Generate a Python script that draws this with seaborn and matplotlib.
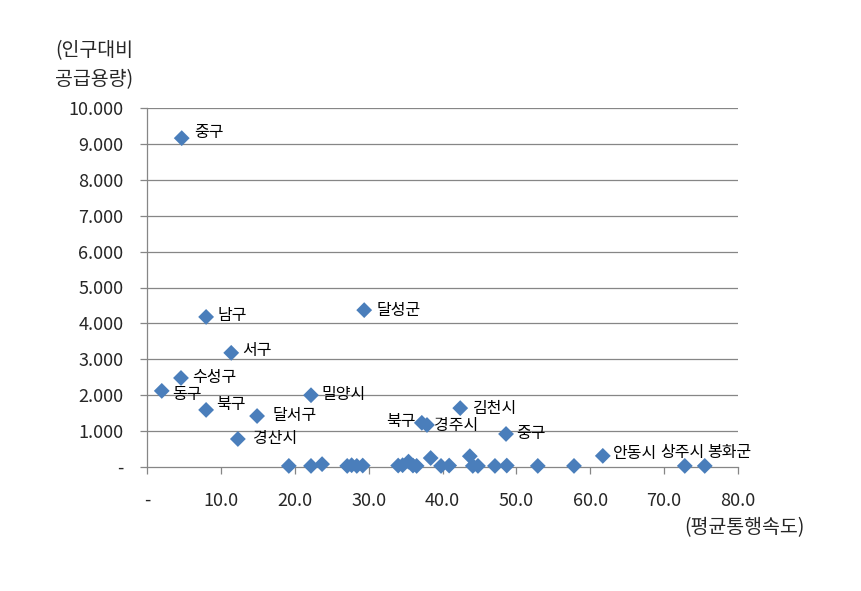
import matplotlib
matplotlib.use("Agg")
import matplotlib.pyplot as plt
import seaborn as sns
import pandas as pd
import numpy as np

# ---- data ----
labels = ["중구", "남구", "달성군", "서구", "수성구", "동구", "밀양시", "북구", "달서구",
          "경산시", "북구", "경주시", "김천시", "중구", "안동시", "상주시", "봉화군"]
label_x = [4.7, 8.0, 29.4, 11.4, 4.6, 2.0, 22.2, 8.0, 14.9,
           12.3, 37.2, 37.9, 42.4, 48.6, 61.7, 72.8, 75.5]
label_y = [9.16, 4.18, 4.37, 3.18, 2.48, 2.12, 2.00, 1.59, 1.42,
           0.78, 1.23, 1.17, 1.64, 0.92, 0.31, 0.03, 0.03]

other_x = [19.2, 22.2, 23.7, 27.1, 27.7, 28.4, 29.2, 34.0, 34.6, 35.4, 36.0, 36.5,
           38.4, 39.8, 40.9, 43.7, 44.1, 44.8, 47.1, 48.7, 52.9, 57.8]
other_y = [0.03, 0.03, 0.08, 0.03, 0.05, 0.03, 0.04, 0.04, 0.05, 0.15, 0.04, 0.03,
           0.25, 0.03, 0.04, 0.30, 0.03, 0.03, 0.03, 0.04, 0.03, 0.03]

x_ticks = [0, 10, 20, 30, 40, 50, 60, 70, 80]
x_ticklabels = ["-", "10.0", "20.0", "30.0", "40.0", "50.0", "60.0", "70.0", "80.0"]
y_ticks = list(range(0, 11))
y_ticklabels = ["-"] + [f"{v}.000" for v in range(1, 11)]
y_title = "(인구대비\n공급용량)"
x_title = "(평균통행속도)"

# label offsets (pixels) and alignment
offsets = [(12, 6), (11, 1), (12, 0), (11, 2), (11, 0), (10, -4), (10, 1), (10, 5), (15, 1),
           (15, 0), (-6, 1), (7, -1), (12, 0), (10, 0), (10, 2), (-25, 13), (2, 13)]
aligns = ["left"] * 10 + ["right"] + ["left"] * 6

df = pd.DataFrame({"x": label_x + other_x, "y": label_y + other_y})

sns.set_style("white")
plt.rcParams["font.family"] = ["Noto Sans CJK KR", "DejaVu Sans"]

fig = plt.figure(figsize=(8.62, 5.91), dpi=100)
ax = fig.add_axes([147 / 862, 1 - 467 / 591, (738 - 147) / 862, (467 - 108) / 591])

ax.set_xlim(0, 80)
ax.set_ylim(0, 10)
for v in y_ticks[1:]:
    ax.axhline(v, color="#868686", lw=0.9, zorder=0)

sns.scatterplot(data=df, x="x", y="y", marker="D", s=65, color="#4A7EBB",
                edgecolor="none", ax=ax, zorder=3, clip_on=False)

for t, x, y, (dx, dy), ha in zip(labels, label_x, label_y, offsets, aligns):
    ax.annotate(t, xy=(x, y), xytext=(dx, dy), textcoords="offset pixels",
                ha=ha, va="center", fontsize=11.5, color="black")

ax.set_xticks(x_ticks)
ax.set_xticklabels(x_ticklabels)
ax.set_yticks(y_ticks)
ax.set_yticklabels(y_ticklabels)
ax.tick_params(axis="x", direction="out", length=5, width=0.9, color="#868686",
               pad=13, labelsize=13)
ax.tick_params(axis="y", direction="out", length=5, width=0.9, color="#868686",
               pad=12, labelsize=13)
ax.xaxis.set_ticks_position("bottom")
ax.yaxis.set_ticks_position("left")
for s in ["top", "right"]:
    ax.spines[s].set_visible(False)
for s in ["left", "bottom"]:
    ax.spines[s].set_color("#868686")
    ax.spines[s].set_linewidth(0.9)
ax.set_xlabel("")
ax.set_ylabel("")

fig.text(55 / 862, 1 - 65 / 591, y_title, ha="left", va="center", fontsize=14,
         linespacing=1.5)
fig.text(805 / 862, 1 - 528 / 591, x_title, ha="right", va="center", fontsize=14)

fig.savefig("out.png", dpi=100)
